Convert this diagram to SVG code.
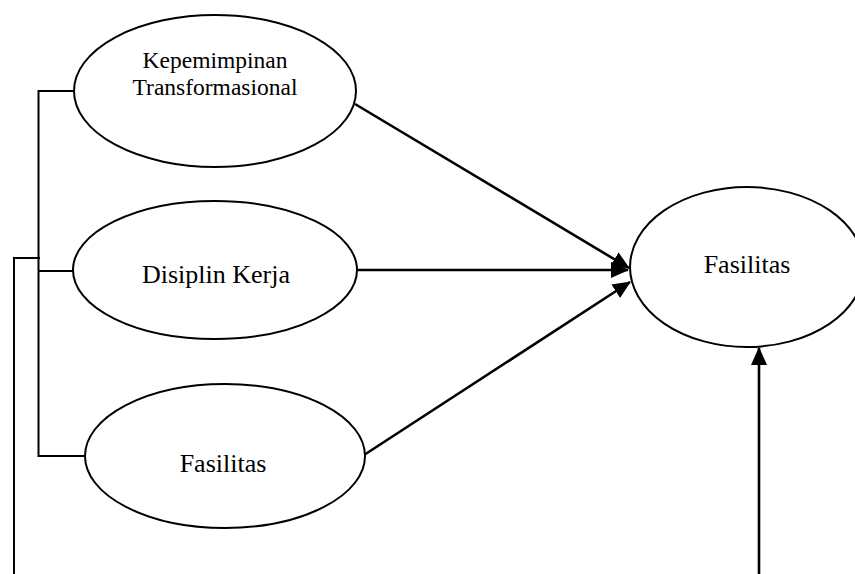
<svg xmlns="http://www.w3.org/2000/svg" width="855" height="574" viewBox="0 0 855 574">
<style>
.node ellipse{fill:#fff;stroke:#000;stroke-width:2}
.lbl{font-family:"Liberation Serif","Times New Roman",serif;fill:#000;text-anchor:middle}
.ln{fill:none;stroke:#000;stroke-width:2}
.ar{fill:none;stroke:#000;stroke-width:2.6;marker-end:url(#ah)}
</style>
<defs>
<marker id="ah" markerUnits="userSpaceOnUse" markerWidth="18" markerHeight="16" viewBox="0 0 18 16" refX="17" refY="8" orient="auto">
<path d="M0,0 L18,8 L0,16 Z" fill="#000"/>
</marker>
</defs>
<rect width="855" height="574" fill="#fff"/>
<g id="connectors">
<path class="ln" d="M74,91 H38.5 V456 H85"/>
<path class="ln" d="M38.5,271 H73"/>
<path class="ln" d="M40,258 H14 V574"/>
<path class="ar" d="M355,104 L629,268"/>
<path class="ar" d="M357,270 L628,270"/>
<path class="ar" d="M364,455 L630,282"/>
<path class="ar" d="M759,574 V348"/>
</g>
<g id="n1" class="node">
<ellipse cx="215" cy="91" rx="141" ry="76"/>
<text class="lbl" x="215" y="68" font-size="23.5">Kepemimpinan</text>
<text class="lbl" x="215" y="95" font-size="23.5">Transformasional</text>
</g>
<g id="n2" class="node">
<ellipse cx="215" cy="270" rx="142" ry="69"/>
<text class="lbl" x="216" y="283" font-size="26">Disiplin Kerja</text>
</g>
<g id="n3" class="node">
<ellipse cx="225" cy="456" rx="140" ry="72"/>
<text class="lbl" x="223" y="472" font-size="26">Fasilitas</text>
</g>
<g id="n4" class="node">
<ellipse cx="747" cy="267" rx="117" ry="80"/>
<text class="lbl" x="747" y="273" font-size="26">Fasilitas</text>
</g>
</svg>
